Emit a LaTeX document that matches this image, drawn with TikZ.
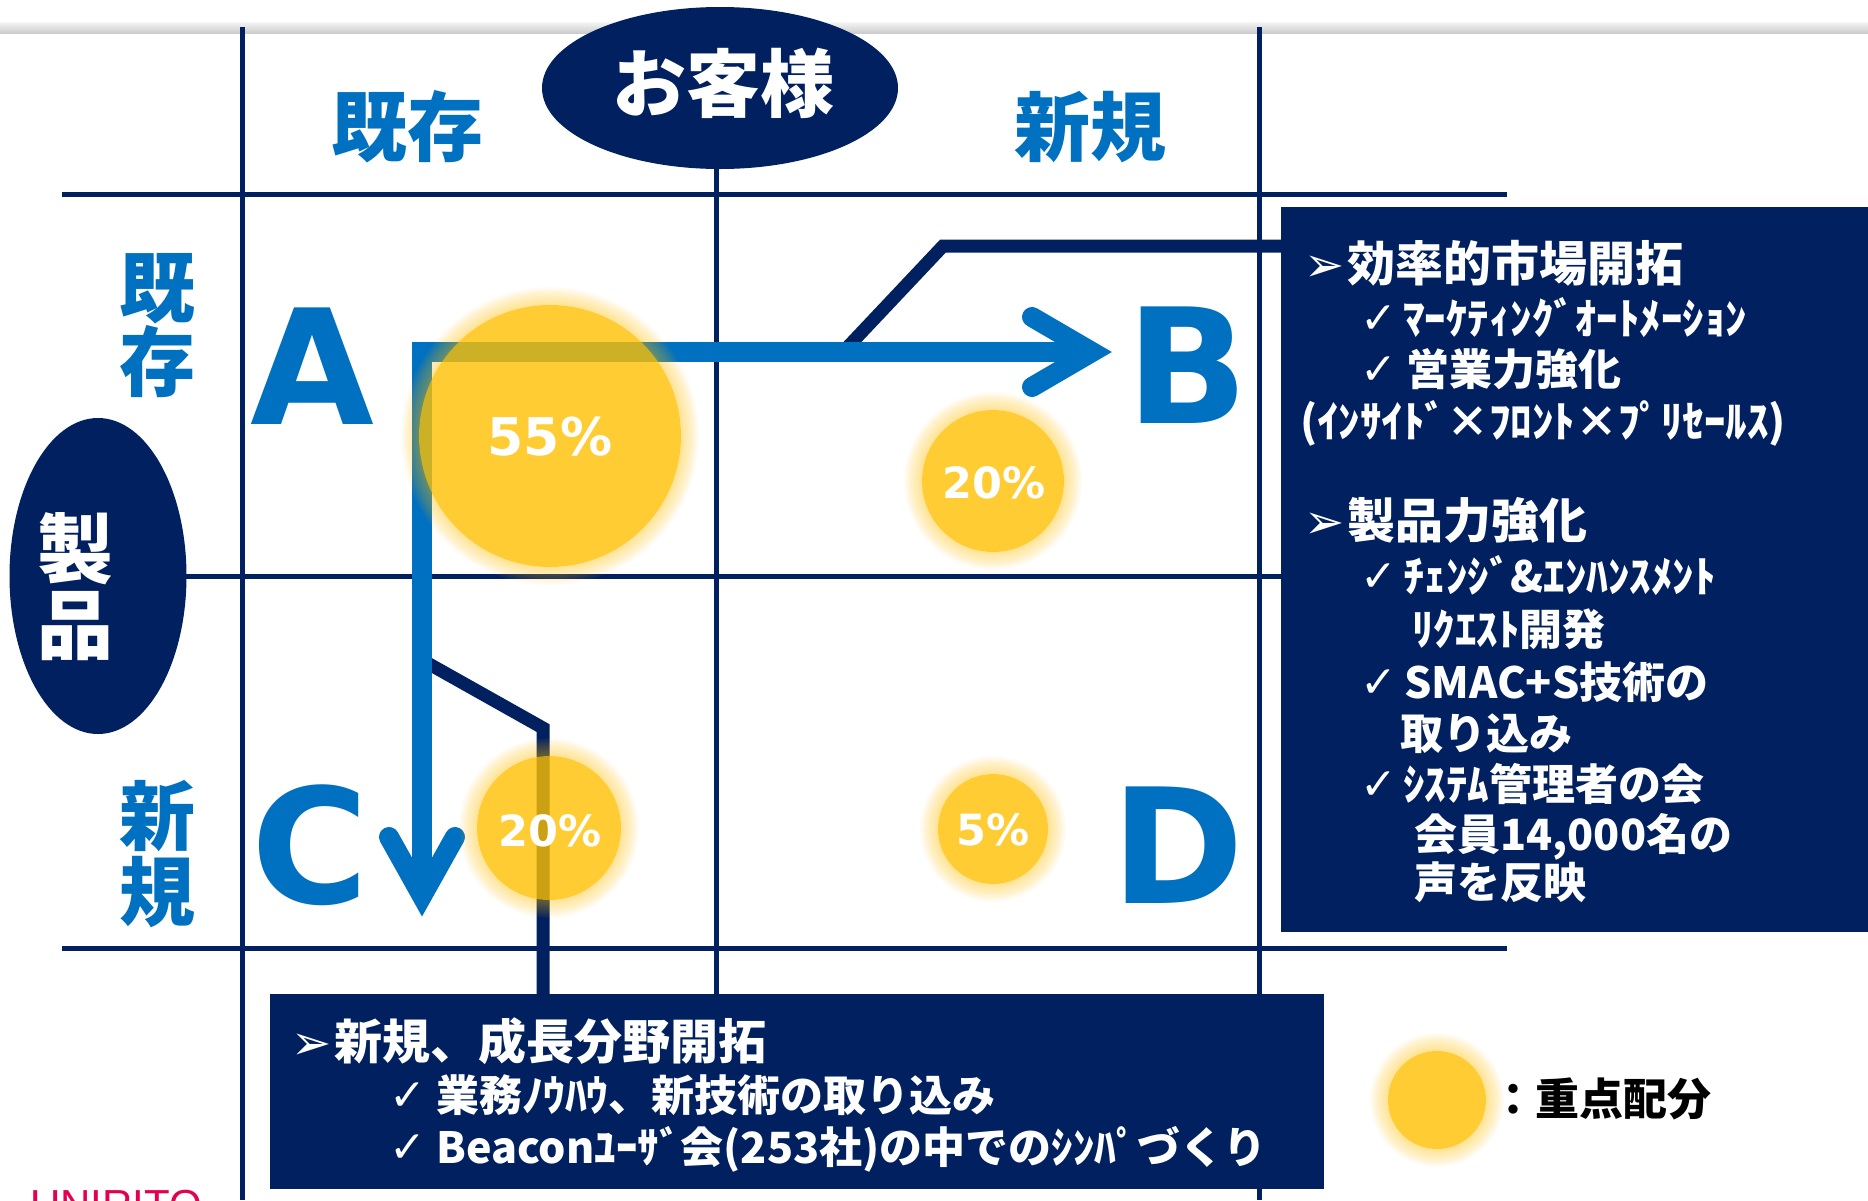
\documentclass[tikz,border=0pt]{standalone}
\usepackage{fontspec}
\usetikzlibrary{shapes.geometric}
\newfontfamily\jp{Noto Sans CJK JP}
\newfontfamily\dv{DejaVu Sans}
\newfontfamily\lib{Liberation Sans}
\newcommand{\fsz}[1]{\fontsize{#1}{#1}\selectfont}
\newcommand{\chk}[1]{\makebox[#1][l]{\raisebox{1pt}{\dv\mdseries\fontsize{44}{44}\selectfont ✓}}}
\newcommand{\arw}[1]{\makebox[#1][l]{\dv\mdseries ➢}}
\definecolor{navyc}{HTML}{002060}
\definecolor{ablue}{HTML}{0070C0}
\definecolor{goldc}{HTML}{FFC000}
\definecolor{crim}{HTML}{E4004F}
\newcommand{\glowdot}[4]{%
  \foreach \k in {1,...,8}{%
    \fill[goldc, opacity=0.06, even odd rule] (#2,#3) circle[radius=#4+\k*2.2] (#2,#3) circle[radius=#4];}
  \node[circle, fill=goldc, fill opacity=0.8, minimum size={2*#4pt}, inner sep=0pt] (#1) at (#2,#3) {};}
\tikzset{
  gridline/.style={navyc, line width=5pt},
  callline/.style={navyc, line width=13pt},
  blueshaft/.style={ablue, line width=20pt, line join=miter},
  chev/.style={ablue, line width=20pt, line cap=round, line join=miter},
  hdr/.style={text=ablue, font=\jp\bfseries\fsz{76}, inner sep=0pt, align=center},
  bigletter/.style={text=ablue, font=\dv\bfseries\fsz{160}, inner sep=0pt},
  pct/.style={text=white, font=\dv\bfseries\fsz{43}, inner sep=0pt},
  boxtxt/.style={text=white, font=\jp\bfseries\fsz{43}, inner sep=0pt, anchor=base west},
  boxhead/.style={text=white, font=\jp\bfseries\fsz{48}, inner sep=0pt, anchor=base west},
  darkbox/.style={fill=navyc, draw=none},
}
\begin{document}
\begin{tikzpicture}[x=1pt,y=-1pt]
\useasboundingbox (0,0) rectangle (1868,1200);
\fill[white] (0,0) rectangle (1868,1200);
% top shadow band
\shade[top color=black!4, bottom color=black!20] (0,22) rectangle (1868,33);
% grid
\draw[gridline] (242,27) -- (242,1200);
\draw[gridline] (716,27) -- (716,994);
\draw[gridline] (1259,27) -- (1259,1200);
\draw[gridline] (62,194) -- (1507,194);
\draw[gridline] (62,576) -- (1507,576);
\draw[gridline] (62,948) -- (1507,948);
% callout lines
\coordinate (cr1) at (943,246);
\coordinate (cr1end) at (843,352);
\coordinate (cr2) at (543,728);
\coordinate (cr2end) at (422,660);
\draw[callline, line join=miter] (1290,246) -- (cr1) -- (cr1end);
\draw[callline, line join=miter] (543,1000) -- (cr2) -- (cr2end);
% blue arrows
\coordinate (corner) at (422,352);
\coordinate (tipB) at (1092,352);
\coordinate (tipC) at (422,896);
\draw[blueshaft] (1080,352) -- (corner) -- (422,882);
\draw[chev] (1032,317) -- (tipB) -- (1032,387);
\draw[chev] (389,837) -- (tipC) -- (455,837);
% focus circles
\glowdot{c55}{550}{436}{131}
\glowdot{c20b}{993}{481}{71}
\glowdot{c20c}{549}{828}{72}
\glowdot{c5}{993}{829}{55}
\glowdot{cleg}{1437}{1100}{49}
% boxes
\fill[darkbox] (1281,207) rectangle (1868,932);
\fill[darkbox] (270,994) rectangle (1324,1189);
% ellipses
\node[ellipse, fill=navyc, minimum width=356pt, minimum height=162pt, inner sep=0pt] (cust) at (720,88) {};
\node[ellipse, fill=navyc, minimum width=177pt, minimum height=316pt, inner sep=0pt] (prod) at (98,576) {};
\node[text=white, font=\jp\bfseries\fsz{74}, inner sep=0pt] (custtxt) at (723,83) {お客様};
\node[hdr, text=white] (prodtxt) at (75,587) {製\\品};
% headers
\node[hdr] (colold) at (407,127) {既存};
\node[hdr] (colnew) at (1090,127) {新規};
\node[hdr, font=\jp\bfseries\fontsize{76}{74}\selectfont] (rowold) at (157,326) {既\\存};
\node[hdr] (rownew) at (157,854) {新\\規};
% letters
\node[bigletter] (A) at (312,366) {A};
\node[bigletter] (B) at (1187,365) {B};
\node[bigletter] (C) at (310,845) {C};
\node[bigletter] (D) at (1178,845) {D};
% percentages
\node[pct, font=\dv\bfseries\fsz{52}] (p55) at (550,437) {55\%};
\node[pct] (p20b) at (994,483) {20\%};
\node[pct] (p20c) at (550,831) {20\%};
\node[pct] (p5) at (993,830) {5\%};
% right box text
\node[boxhead] (r1) at (1304,281) {\arw{43pt}効率的市場開拓};
\node[boxtxt] (r2) at (1360,334) {\chk{43pt}ﾏｰｹﾃｨﾝｸﾞｵｰﾄﾒｰｼｮﾝ};
\node[boxtxt] (r3) at (1360,385) {\chk{46pt}営業力強化};
\node[boxtxt] (r4) at (1300,437) {(ｲﾝｻｲﾄﾞ×ﾌﾛﾝﾄ×ﾌﾟﾘｾｰﾙｽ)};
\node[boxhead] (r5) at (1304,538) {\arw{43pt}製品力強化};
\node[boxtxt] (r6) at (1360,592) {\chk{43pt}ﾁｪﾝｼﾞ\&ｴﾝﾊﾝｽﾒﾝﾄ};
\node[boxtxt] (r7) at (1412,645) {ﾘｸｴｽﾄ開発};
\node[boxtxt] (r8) at (1360,698) {\chk{44pt}SMAC+S技術の};
\node[boxtxt] (r9) at (1400,749) {取り込み};
\node[boxtxt] (r10) at (1360,800) {\chk{43pt}ｼｽﾃﾑ管理者の会};
\node[boxtxt] (r11) at (1414,850) {会員14,000名の};
\node[boxtxt] (r12) at (1414,898) {声を反映};
% bottom box text
\node[boxhead] (b1) at (291,1059) {\arw{43pt}新規、成長分野開拓};
\node[boxtxt] (b2) at (389,1111) {\chk{47pt}業務ﾉｳﾊｳ、新技術の取り込み};
\node[boxtxt] (b3) at (389,1163) {\chk{47pt}Beaconﾕｰｻﾞ会(253社)の中でのｼﾝﾊﾟづくり};
% legend
\node[boxtxt, text=black, font=\jp\bfseries\fsz{44}] (legtxt) at (1491,1115) {：重点配分};
% logo (cut off at the lower edge, as in the reference)
\node[anchor=north west, inner sep=0pt, text=crim, font=\lib\fsz{42}] (logo) at (30,1190) {UNIRITO};
\end{tikzpicture}
\end{document}
